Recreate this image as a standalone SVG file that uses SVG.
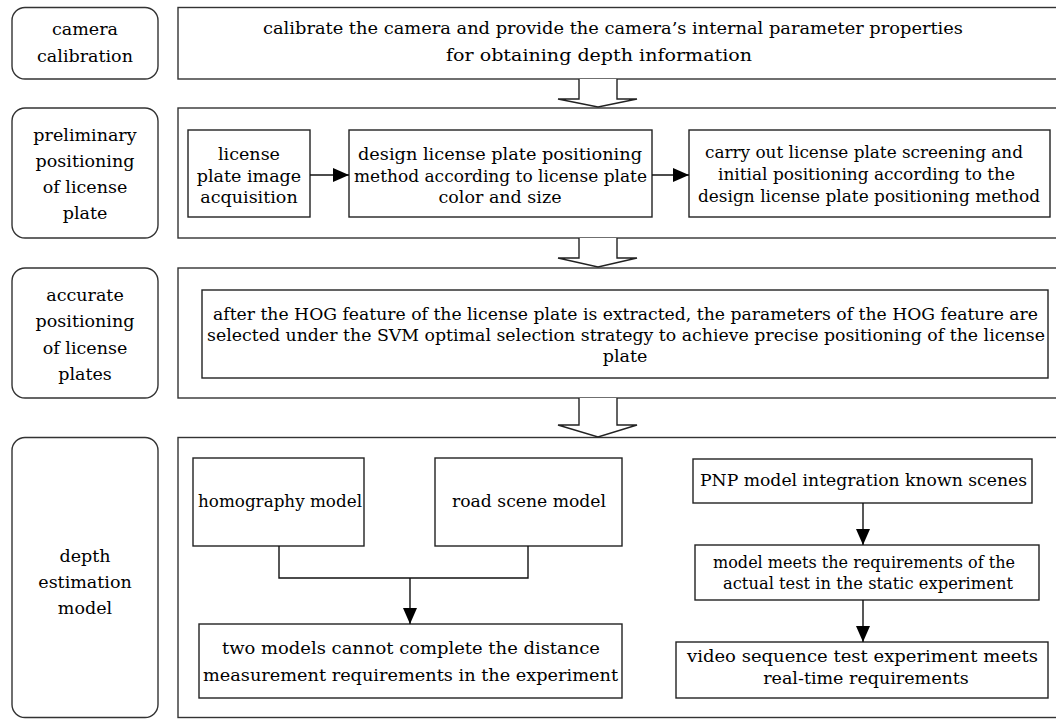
<svg xmlns="http://www.w3.org/2000/svg" width="1056" height="719" viewBox="0 0 1056 719">
<defs>
<style>
.lbl{fill:#fff;stroke:#333;stroke-width:1.4}
.frame{fill:#fff;stroke:#333;stroke-width:1.4}
.box{fill:#fff;stroke:#222;stroke-width:1.4}
text{font-family:"DejaVu Serif","Liberation Serif",serif;font-size:17.5px;fill:#000}
.c{text-anchor:middle}
.line{fill:none;stroke:#111;stroke-width:1.4}
.hollow{fill:#fff;stroke:#222;stroke-width:1.4;stroke-linejoin:miter}
</style>
<marker id="ah" markerUnits="userSpaceOnUse" markerWidth="16" markerHeight="14" refX="16" refY="7" orient="auto"><path d="M0,0 L16,7 L0,14 z" fill="#000"/></marker>
</defs>
<rect width="1056" height="719" fill="#fff"/>

<!-- Row 1 -->
<g id="label-camera-calibration">
<rect class="lbl" x="12" y="7.5" width="146" height="71.5" rx="13"/>
<text class="c" x="85" y="35">camera</text>
<text class="c" x="85" y="62">calibration</text>
</g>
<g id="frame-camera-calibration">
<rect class="frame" x="178" y="7.5" width="884" height="71.5"/>
<text x="263" y="34" textLength="700" lengthAdjust="spacingAndGlyphs">calibrate the camera and provide the camera’s internal parameter properties</text>
<text class="c" x="599" y="61" textLength="306" lengthAdjust="spacingAndGlyphs">for obtaining depth information</text>
</g>

<!-- Row 2 -->
<g id="label-preliminary">
<rect class="lbl" x="12" y="108" width="146" height="130" rx="13"/>
<text class="c" x="85" y="141">preliminary</text>
<text class="c" x="85" y="167">positioning</text>
<text class="c" x="85" y="193">of license</text>
<text class="c" x="85" y="219">plate</text>
</g>
<g id="frame-preliminary">
<rect class="frame" x="178" y="108" width="884" height="130"/>
</g>
<g id="node-acquisition">
<rect class="box" x="188" y="130" width="122" height="87"/>
<text class="c" x="249" y="160">license</text>
<text class="c" x="249" y="182">plate image</text>
<text class="c" x="249" y="203">acquisition</text>
</g>
<g id="node-design-method">
<rect class="box" x="349" y="130" width="303" height="87"/>
<text class="c" x="500" y="160" textLength="284" lengthAdjust="spacingAndGlyphs">design license plate positioning</text>
<text class="c" x="500.5" y="182" textLength="293" lengthAdjust="spacingAndGlyphs">method according to license plate</text>
<text class="c" x="500" y="203">color and size</text>
</g>
<g id="node-screening">
<rect class="box" x="689" y="130" width="361" height="87"/>
<text class="c" x="864" y="158" textLength="318" lengthAdjust="spacingAndGlyphs">carry out license plate screening and</text>
<text class="c" x="866.5" y="180" textLength="297" lengthAdjust="spacingAndGlyphs">initial positioning according to the</text>
<text class="c" x="869" y="202" textLength="342" lengthAdjust="spacingAndGlyphs">design license plate positioning method</text>
</g>

<!-- Row 3 -->
<g id="label-accurate">
<rect class="lbl" x="12" y="268" width="146" height="130" rx="13"/>
<text class="c" x="85" y="301">accurate</text>
<text class="c" x="85" y="327">positioning</text>
<text class="c" x="85" y="354">of license</text>
<text class="c" x="85" y="380">plates</text>
</g>
<g id="frame-accurate">
<rect class="frame" x="178" y="268" width="884" height="130"/>
</g>
<g id="node-hog">
<rect class="box" x="202" y="290" width="846" height="88"/>
<text class="c" x="625.5" y="320" textLength="825" lengthAdjust="spacingAndGlyphs">after the HOG feature of the license plate is extracted, the parameters of the HOG feature are</text>
<text class="c" x="626" y="341" textLength="838" lengthAdjust="spacingAndGlyphs">selected under the SVM optimal selection strategy to achieve precise positioning of the license</text>
<text class="c" x="625" y="362">plate</text>
</g>

<!-- Row 4 -->
<g id="label-depth">
<rect class="lbl" x="12" y="437.5" width="146" height="280" rx="13"/>
<text class="c" x="85" y="562">depth</text>
<text class="c" x="85" y="588">estimation</text>
<text class="c" x="85" y="614">model</text>
</g>
<g id="frame-depth">
<rect class="frame" x="178" y="437.5" width="884" height="280"/>
</g>
<g id="node-homography">
<rect class="box" x="193" y="458" width="171" height="88"/>
<text x="198" y="507" textLength="164" lengthAdjust="spacingAndGlyphs">homography model</text>
</g>
<g id="node-road-scene">
<rect class="box" x="435" y="458" width="187" height="88"/>
<text x="452" y="507" textLength="154" lengthAdjust="spacingAndGlyphs">road scene model</text>
</g>
<g id="node-two-models">
<rect class="box" x="199" y="624" width="423" height="74"/>
<text class="c" x="411" y="654" textLength="378" lengthAdjust="spacingAndGlyphs">two models cannot complete the distance</text>
<text class="c" x="410.5" y="681" textLength="415" lengthAdjust="spacingAndGlyphs">measurement requirements in the experiment</text>
</g>
<g id="node-pnp">
<rect class="box" x="693" y="459" width="339" height="44"/>
<text class="c" x="863.5" y="486" textLength="327" lengthAdjust="spacingAndGlyphs">PNP model integration known scenes</text>
</g>
<g id="node-static">
<rect class="box" x="695" y="545" width="344" height="55"/>
<text class="c" x="864" y="568" textLength="302" lengthAdjust="spacingAndGlyphs">model meets the requirements of the</text>
<text class="c" x="868" y="589" textLength="290" lengthAdjust="spacingAndGlyphs">actual test in the static experiment</text>
</g>
<g id="node-video">
<rect class="box" x="676" y="642" width="372" height="56"/>
<text class="c" x="862.5" y="662" textLength="351" lengthAdjust="spacingAndGlyphs">video sequence test experiment meets</text>
<text class="c" x="866" y="684">real-time requirements</text>
</g>

<!-- Connectors -->
<g id="connectors">
<path class="hollow" d="M579,79 V99 H558 L598,107 L637,99 H617 V79"/>
<path class="hollow" d="M579,238 V258 H558 L598,267 L637,258 H617 V238"/>
<path class="hollow" d="M579,398 V425 H558 L598,437 L637,425 H617 V398"/>
<line class="line" x1="310" y1="175" x2="349" y2="175" marker-end="url(#ah)"/>
<line class="line" x1="652" y1="175" x2="689" y2="175" marker-end="url(#ah)"/>
<path class="line" d="M279,546 V578 H528 V546"/>
<line class="line" x1="410" y1="578" x2="410" y2="624" marker-end="url(#ah)"/>
<line class="line" x1="863" y1="503" x2="863" y2="545" marker-end="url(#ah)"/>
<line class="line" x1="863" y1="600" x2="863" y2="642" marker-end="url(#ah)"/>
</g>
</svg>
